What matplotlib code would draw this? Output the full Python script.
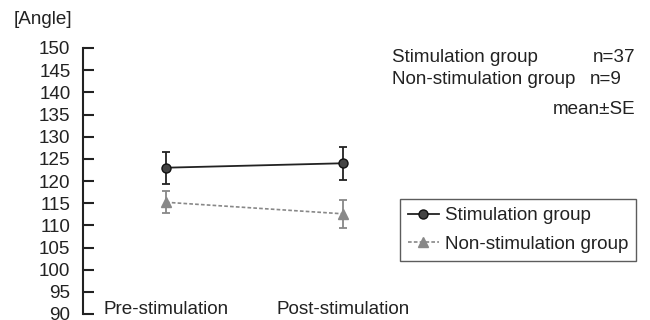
import matplotlib
matplotlib.use("Agg")
import matplotlib.pyplot as plt

plt.rcParams['font.family'] = ['Liberation Sans', 'DejaVu Sans']

phases = ["Pre-stimulation", "Post-stimulation"]
stim_mean = [123.0, 124.0]
stim_se = [3.6, 3.7]
nonstim_mean = [115.2, 112.6]
nonstim_se = [2.5, 3.2]
yticks = list(range(90, 155, 5))
series_names = ["Stimulation group", "Non-stimulation group"]
n_counts = ["n=37", "n=9"]

FS = 13.6
TXT = '#222222'

fig = plt.figure(figsize=(6.5, 3.2), dpi=100)
ax = fig.add_axes([83/650, 1 - 314/320, (640 - 83)/650, (314 - 48)/320])

x = list(range(len(phases)))
ax.errorbar(x, stim_mean, yerr=stim_se, fmt='none', ecolor='#222222',
            elinewidth=1.3, capsize=3, capthick=1.3, zorder=3)
ax.plot(x, stim_mean, color='#222222', lw=1.3, marker='o', markersize=6.5,
        markerfacecolor='#444444', markeredgecolor='#111111',
        label=series_names[0], zorder=4)
ax.errorbar(x, nonstim_mean, yerr=nonstim_se, fmt='none', ecolor='#888888',
            elinewidth=1.3, capsize=3, capthick=1.3, zorder=2)
ax.plot(x, nonstim_mean, color='#888888', lw=1.2, ls=(0, (2.2, 1.3)),
        marker='^', markersize=7, markerfacecolor='#888888', markeredgecolor='#888888',
        label=series_names[1], zorder=2)

ax.set_ylim(90, 150)
ax.set_xlim(-(166 - 83)/177, (640 - 166)/177)
ax.set_yticks(yticks)
ax.set_xticks(x)
ax.set_xticklabels(phases)
for s in ['top', 'right', 'bottom']:
    ax.spines[s].set_visible(False)
ax.spines['left'].set_linewidth(1.5)
ax.spines['left'].set_color('#222222')
ax.tick_params(axis='y', direction='in', length=8, width=1.5, color='#222222',
               labelsize=FS, pad=9, labelcolor=TXT)
ax.tick_params(axis='x', length=0, labelsize=FS, pad=-9.5, labelcolor=TXT)

fig.text(14/650, 1 - 20/320, "[Angle]", fontsize=FS, va='center', ha='left', color=TXT)

fig.text(392/650, 1 - 57/320, series_names[0], fontsize=FS, va='center', ha='left', color=TXT)
fig.text(593/650, 1 - 57/320, n_counts[0], fontsize=FS, va='center', ha='left', color=TXT)
fig.text(392/650, 1 - 79/320, series_names[1], fontsize=FS, va='center', ha='left', color=TXT)
fig.text(590/650, 1 - 79/320, n_counts[1], fontsize=FS, va='center', ha='left', color=TXT)
fig.text(635/650, 1 - 110/320, "mean\u00b1SE", fontsize=FS, va='center', ha='right', color=TXT)

leg = ax.legend(loc='upper right', bbox_to_anchor=(636/650, 1 - 199/320),
                bbox_transform=fig.transFigure, borderaxespad=0, fontsize=FS,
                handlelength=1.65, handletextpad=0.3, labelspacing=0.6,
                borderpad=0.42, fancybox=False, frameon=True)
leg.get_frame().set_edgecolor('#333333')
leg.get_frame().set_linewidth(1.0)
for t in leg.get_texts():
    t.set_color(TXT)

fig.savefig("out.png", dpi=100)
